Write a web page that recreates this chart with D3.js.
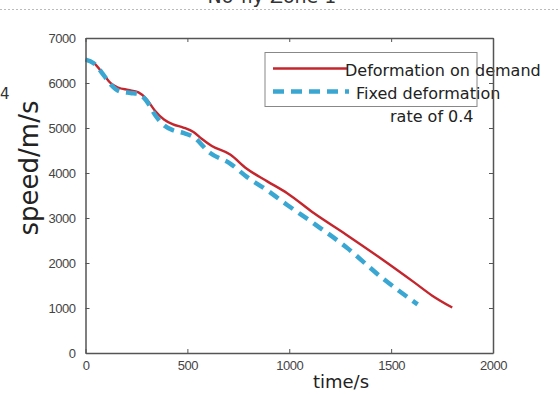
<!DOCTYPE html>
<html><head><meta charset="utf-8">
<script src="https://cdn.jsdelivr.net/npm/d3@7"></script>
<style>
html,body{margin:0;padding:0;background:#fff;}
svg{display:block;}
</style></head>
<body>
<svg id="c" width="560" height="394"></svg>
<script>
// ---- data ----
const redTime  = [0, 40, 90, 125, 160, 210, 260, 300, 340, 385, 430, 480, 530, 570, 620, 710, 790, 890, 990, 1120, 1280, 1450, 1610, 1700, 1800];
const redSpeed = [6520, 6450, 6180, 5990, 5900, 5845, 5790, 5640, 5390, 5190, 5080, 5010, 4910, 4760, 4600, 4410, 4100, 3820, 3550, 3110, 2630, 2100, 1580, 1280, 1010];
const blueTime  = [0, 40, 90, 125, 170, 220, 260, 300, 340, 385, 430, 480, 530, 610, 710, 790, 890, 990, 1120, 1280, 1450, 1630];
const blueSpeed = [6520, 6440, 6170, 5960, 5810, 5780, 5760, 5600, 5300, 5060, 4950, 4890, 4800, 4450, 4210, 3920, 3620, 3290, 2880, 2350, 1690, 1080];
const xTicks = [0, 500, 1000, 1500, 2000];
const yTicks = [0, 1000, 2000, 3000, 4000, 5000, 6000, 7000];
const seriesNames = ["Deformation on demand", "Fixed deformation", "rate of 0.4"];
const titleText = "No-fly Zone 1";
const xLabel = "time/s", yLabel = "speed/m/s";

const svg = d3.select("#c");
const x = d3.scaleLinear().domain([0, 2000]).range([85.5, 493]);
const y = d3.scaleLinear().domain([0, 7000]).range([353, 38]);

// title (cropped at the top edge as in the reference) and dotted separator
svg.append("text").attr("x", 272).attr("y", 3).attr("text-anchor", "middle")
  .attr("font-family", "DejaVu Sans").attr("font-size", 19).attr("fill", "#333").text(titleText);
svg.append("line").attr("x1", 0).attr("x2", 560).attr("y1", 9.5).attr("y2", 9.5)
  .attr("stroke", "#bbb").attr("stroke-width", 1).attr("stroke-dasharray", "2,2");
// stray "4"
svg.append("text").attr("x", 0).attr("y", 99).attr("font-family", "DejaVu Sans").attr("font-size", 15).attr("fill", "#333").text("4");

// lines
const lineGen = d3.line().x(d => x(d[0])).y(d => y(d[1])).curve(d3.curveMonotoneX);
const redData = redTime.map((t, i) => [t, redSpeed[i]]);
const blueData = blueTime.map((t, i) => [t, blueSpeed[i]]);
svg.append("path").attr("d", lineGen(redData)).attr("fill", "none")
  .attr("stroke", "#c4262e").attr("stroke-width", 2.4);
svg.append("path").attr("d", lineGen(blueData)).attr("fill", "none")
  .attr("stroke", "#3aa7d3").attr("stroke-width", 4.5).attr("stroke-dasharray", "11,7");

// axes (box with inward ticks)
const tickFont = "'Liberation Sans Narrow','Arial Narrow','Liberation Sans',sans-serif";
const fmt = d3.format("d");
const axB = d3.axisBottom(x).tickValues(xTicks).tickFormat(fmt).tickSizeInner(-4).tickSizeOuter(0).tickPadding(8);
const axL = d3.axisLeft(y).tickValues(yTicks).tickFormat(fmt).tickSizeInner(-4).tickSizeOuter(0).tickPadding(10);
const axT = d3.axisTop(x).tickValues(xTicks).tickSizeInner(-4).tickSizeOuter(0).tickFormat("");
const axR = d3.axisRight(y).tickValues(yTicks).tickSizeInner(-4).tickSizeOuter(0).tickFormat("");
function style(g){
  g.select(".domain").attr("stroke", "#555").attr("stroke-width", 1.5);
  g.selectAll(".tick line").attr("stroke", "#555").attr("stroke-width", 1);
  g.selectAll(".tick text").attr("fill", "#444").attr("font-family", tickFont).attr("font-size", 13).attr("letter-spacing", -0.5);
}

// legend
const lg = svg.append("g");
lg.append("rect").attr("x", 265).attr("y", 52.5).attr("width", 212).attr("height", 54)
  .attr("fill", "#fff").attr("stroke", "#888").attr("stroke-width", 1);
lg.append("line").attr("x1", 273).attr("x2", 347).attr("y1", 68.5).attr("y2", 68.5)
  .attr("stroke", "#c4262e").attr("stroke-width", 2.4);
lg.append("line").attr("x1", 273).attr("x2", 349).attr("y1", 91.5).attr("y2", 91.5)
  .attr("stroke", "#3aa7d3").attr("stroke-width", 4.5).attr("stroke-dasharray", "11,7");
const lf = "DejaVu Sans";
lg.append("text").attr("x", 345).attr("y", 76).attr("font-family", lf).attr("font-size", 16).attr("fill", "#222").text(seriesNames[0]);
lg.append("text").attr("x", 356).attr("y", 98.5).attr("font-family", lf).attr("font-size", 16).attr("fill", "#222").text(seriesNames[1]);
lg.append("text").attr("x", 390).attr("y", 122).attr("font-family", lf).attr("font-size", 16).attr("fill", "#222").text(seriesNames[2]);

svg.append("g").attr("transform", "translate(0,353)").call(axB).call(style);
svg.append("g").attr("transform", "translate(85.5,0)").call(axL).call(style);
svg.append("g").attr("transform", "translate(0,38)").call(axT).call(style);
svg.append("g").attr("transform", "translate(493,0)").call(axR).call(style);

// axis titles
svg.append("text").attr("x", 341).attr("y", 388).attr("text-anchor", "middle")
  .attr("font-family", "DejaVu Sans").attr("font-size", 18).attr("fill", "#222").text(xLabel);
svg.append("text").attr("transform", "translate(38,168) rotate(-90)").attr("text-anchor", "middle")
  .attr("font-family", "DejaVu Sans").attr("font-size", 26).attr("fill", "#222").text(yLabel);
</script>
</body></html>
